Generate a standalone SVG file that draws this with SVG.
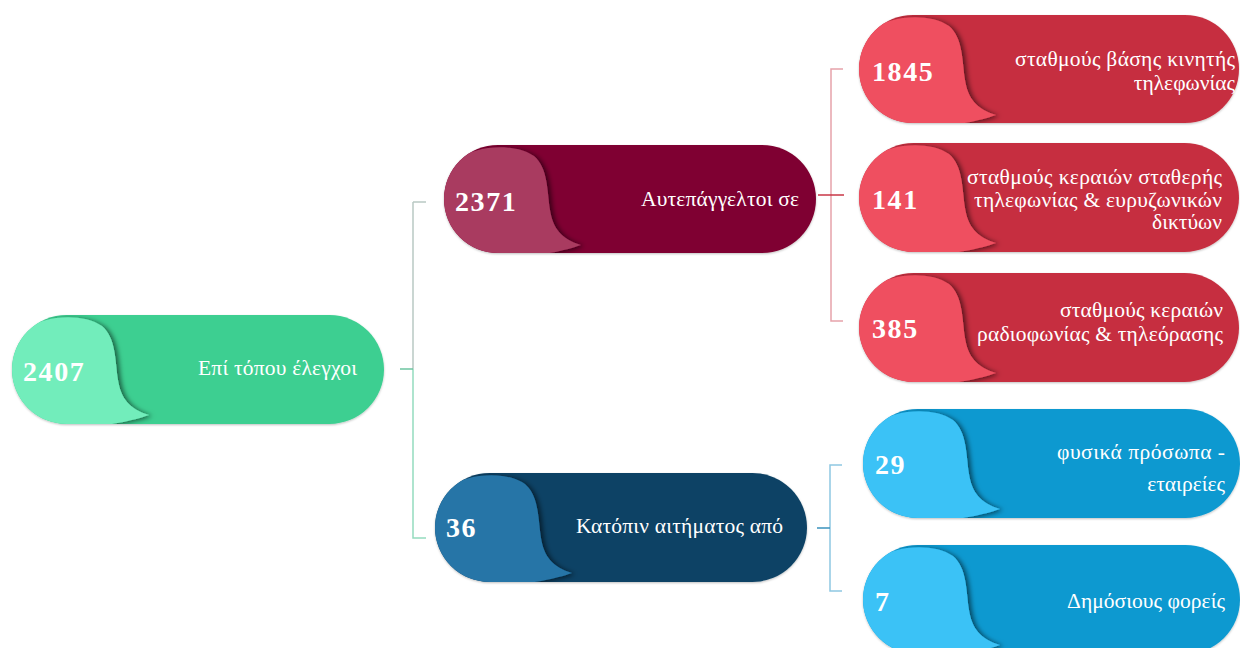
<svg xmlns="http://www.w3.org/2000/svg" width="1240" height="648" viewBox="0 0 1240 648">
  <style>
    .num { font-family: "Liberation Serif", "DejaVu Serif", serif; font-weight: bold; font-size: 28px; letter-spacing: 1.6px; fill: #ffffff; }
    .lbl { font-family: "Liberation Serif", "DejaVu Serif", serif; font-size: 21.5px; fill: #ffffff; text-anchor: end; }
    .conn { fill: none; stroke-width: 1.5; }
  </style>
  <defs>
    <filter id="pillShadow" x="-5%" y="-10%" width="110%" height="120%">
      <feDropShadow dx="0" dy="1" stdDeviation="1" flood-color="#000" flood-opacity="0.25"/>
    </filter>
    <filter id="bubShadow" x="-20%" y="-20%" width="140%" height="140%">
      <feDropShadow dx="3" dy="1" stdDeviation="2.5" flood-color="#000" flood-opacity="0.55"/>
    </filter>
    <path id="bub" d="M 15,14 C 30,1 70,-3 90,11 C 104,23 103,45 106,65 C 109,83 117,94 137,100 C 120,106 100,110 60,114 L -10,114 L -10,14 Z"/>
    <clipPath id="c2407"><rect x="12" y="315" width="372" height="109" rx="54.5"/></clipPath>
    <clipPath id="c2371"><rect x="444" y="145" width="372" height="108" rx="54"/></clipPath>
    <clipPath id="c36"><rect x="435" y="473" width="372" height="109" rx="54.5"/></clipPath>
    <clipPath id="c1845"><rect x="859" y="15" width="380" height="108" rx="54"/></clipPath>
    <clipPath id="c141"><rect x="859" y="143" width="380" height="109" rx="54.5"/></clipPath>
    <clipPath id="c385"><rect x="859" y="273" width="380" height="109" rx="54.5"/></clipPath>
    <clipPath id="c29"><rect x="863" y="409" width="377" height="109" rx="54.5"/></clipPath>
    <clipPath id="c7"><rect x="863" y="545" width="377" height="109" rx="54.5"/></clipPath>
  </defs>
  <rect width="1240" height="648" fill="#ffffff"/>

  <g id="connectors">
    <path class="conn" d="M 413 202 H 426 M 413 202 V 369" stroke="#b9c9c3"/>
    <path class="conn" d="M 413 369 V 538 H 426" stroke="#94dcbe"/>
    <path class="conn" d="M 400 369 H 413" stroke="#6cc4a0"/>
    <path class="conn" d="M 843 69 H 831 V 321 H 843" stroke="#e6a2aa"/>
    <path class="conn" d="M 818 195 H 844" stroke="#c83646"/>
    <path class="conn" d="M 842 465 H 830 V 591 H 842" stroke="#8ec8e2"/>
    <path class="conn" d="M 817 528 H 830" stroke="#3a92bc"/>
  </g>

  <g id="node-2407">
    <rect x="12" y="315" width="372" height="109" rx="54.5" fill="#3dcf91" filter="url(#pillShadow)"/>
    <g clip-path="url(#c2407)"><use href="#bub" x="12" y="315" fill="#72edbb" filter="url(#bubShadow)"/></g>
    <text class="num" x="23" y="381">2407</text>
    <text class="lbl" x="357" y="375" textLength="159">Επί τόπου έλεγχοι</text>
  </g>

  <g id="node-2371">
    <rect x="444" y="145" width="372" height="108" rx="54" fill="#7f0030" filter="url(#pillShadow)"/>
    <g clip-path="url(#c2371)"><use href="#bub" x="444" y="145" fill="#a93a61" filter="url(#bubShadow)"/></g>
    <text class="num" x="455" y="211">2371</text>
    <text class="lbl" x="799" y="206" textLength="158">Αυτεπάγγελτοι σε</text>
  </g>

  <g id="node-36">
    <rect x="435" y="473" width="372" height="109" rx="54.5" fill="#0d4365" filter="url(#pillShadow)"/>
    <g clip-path="url(#c36)"><use href="#bub" x="435" y="473" fill="#2675a7" filter="url(#bubShadow)"/></g>
    <text class="num" x="446" y="537">36</text>
    <text class="lbl" x="783" y="533" textLength="207">Κατόπιν αιτήματος από</text>
  </g>

  <g id="node-1845">
    <rect x="859" y="15" width="380" height="108" rx="54" fill="#c62f3f" filter="url(#pillShadow)"/>
    <g clip-path="url(#c1845)"><use href="#bub" x="859" y="15" fill="#ef5061" filter="url(#bubShadow)"/></g>
    <text class="num" x="872" y="81">1845</text>
    <text class="lbl" x="1235" y="66" textLength="220">σταθμούς βάσης κινητής</text>
    <text class="lbl" x="1235" y="90">τηλεφωνίας</text>
  </g>

  <g id="node-141">
    <rect x="859" y="143" width="380" height="109" rx="54.5" fill="#c62f3f" filter="url(#pillShadow)"/>
    <g clip-path="url(#c141)"><use href="#bub" x="859" y="143" fill="#ef5061" filter="url(#bubShadow)"/></g>
    <text class="num" x="872" y="209">141</text>
    <text class="lbl" x="1222" y="184" textLength="255">σταθμούς κεραιών σταθερής</text>
    <text class="lbl" x="1222" y="207" textLength="248">τηλεφωνίας &amp; ευρυζωνικών</text>
    <text class="lbl" x="1222" y="229">δικτύων</text>
  </g>

  <g id="node-385">
    <rect x="859" y="273" width="380" height="109" rx="54.5" fill="#c62f3f" filter="url(#pillShadow)"/>
    <g clip-path="url(#c385)"><use href="#bub" x="859" y="273" fill="#ef5061" filter="url(#bubShadow)"/></g>
    <text class="num" x="872" y="338">385</text>
    <text class="lbl" x="1223" y="317" textLength="163">σταθμούς κεραιών</text>
    <text class="lbl" x="1223" y="341" textLength="246">ραδιοφωνίας &amp; τηλεόρασης</text>
  </g>

  <g id="node-29">
    <rect x="863" y="409" width="377" height="109" rx="54.5" fill="#0e99d0" filter="url(#pillShadow)"/>
    <g clip-path="url(#c29)"><use href="#bub" x="863" y="409" fill="#3bc2f6" filter="url(#bubShadow)"/></g>
    <text class="num" x="875" y="474">29</text>
    <text class="lbl" x="1225" y="459" textLength="168">φυσικά πρόσωπα -</text>
    <text class="lbl" x="1225" y="491">εταιρείες</text>
  </g>

  <g id="node-7">
    <rect x="863" y="545" width="377" height="109" rx="54.5" fill="#0e99d0" filter="url(#pillShadow)"/>
    <g clip-path="url(#c7)"><use href="#bub" x="863" y="545" fill="#3bc2f6" filter="url(#bubShadow)"/></g>
    <text class="num" x="875" y="611">7</text>
    <text class="lbl" x="1225" y="608" textLength="158">Δημόσιους φορείς</text>
  </g>
</svg>
